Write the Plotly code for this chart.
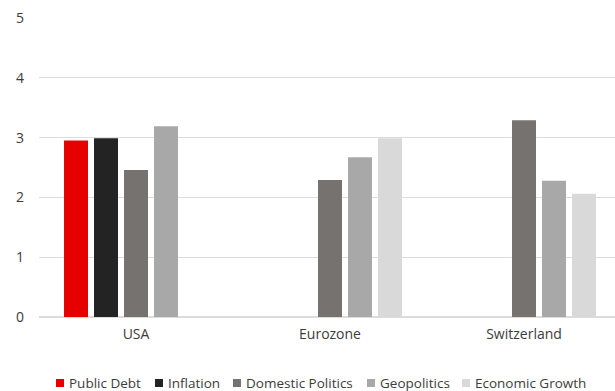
import plotly.graph_objects as go

categories = ["USA", "Eurozone", "Switzerland"]
series_names = ["Public Debt", "Inflation", "Domestic Politics", "Geopolitics", "Economic Growth"]
public_debt = [2.95, None, None]
inflation = [2.99, None, None]
domestic_politics = [2.46, 2.29, 3.29]
geopolitics = [3.19, 2.67, 2.28]
economic_growth = [None, 2.99, 2.06]
colors = ["#E60000", "#232323", "#767270", "#A8A8A8", "#D9D9D9"]
y_ticks = [0, 1, 2, 3, 4, 5]

W, H = 615, 391
ML, MR, MT, MB = 39, 0, 18, 74
PW, PH = W - ML - MR, H - MT - MB

FONT = "Open Sans"
TXT = "#3c3c3c"

fig = go.Figure()
for name, vals, col in zip(series_names,
                           [public_debt, inflation, domestic_politics, geopolitics, economic_growth],
                           colors):
    fig.add_trace(go.Bar(x=categories, y=vals, name=name, marker_color=col,
                         marker_line_width=0, showlegend=False))

def fx(px):
    return (px - ML) / PW

def fy(py):
    return (MT + PH - py) / PH

# manual legend (squares + labels)
legend_sq_x = [56, 155, 233, 367, 462]
shapes = []
annotations = []
for name, col, sx in zip(series_names, colors, legend_sq_x):
    shapes.append(dict(type="rect", xref="paper", yref="paper",
                       x0=fx(sx), x1=fx(sx + 8), y0=fy(387), y1=fy(379),
                       fillcolor=col, line_width=0))
    annotations.append(dict(text=name, xref="paper", yref="paper",
                            x=fx(sx + 12), y=fy(382.5), xanchor="left", yanchor="middle",
                            showarrow=False, borderpad=0,
                            font=dict(family=FONT, size=13.5, color=TXT)))

fig.update_layout(
    width=W, height=H,
    margin=dict(l=ML, r=MR, t=MT, b=MB, pad=0),
    paper_bgcolor="white", plot_bgcolor="white",
    barmode="group", bargap=0.227, bargroupgap=0.2,
    font=dict(family=FONT, size=14, color=TXT),
    shapes=shapes, annotations=annotations,
    xaxis=dict(range=[-0.5, 2.469], showgrid=False, zeroline=False, showline=False,
               ticks="", tickfont=dict(size=14, color=TXT), ticklabelstandoff=7),
    yaxis=dict(range=[0, 5], tickvals=y_ticks, showgrid=True, gridcolor="#DCDCDC",
               gridwidth=1, zeroline=True, zerolinecolor="#DCDCDC", zerolinewidth=1.5,
               showline=False, ticks="", tickfont=dict(size=14, color=TXT),
               ticklabelstandoff=14),
)

fig.write_html("out.html")
